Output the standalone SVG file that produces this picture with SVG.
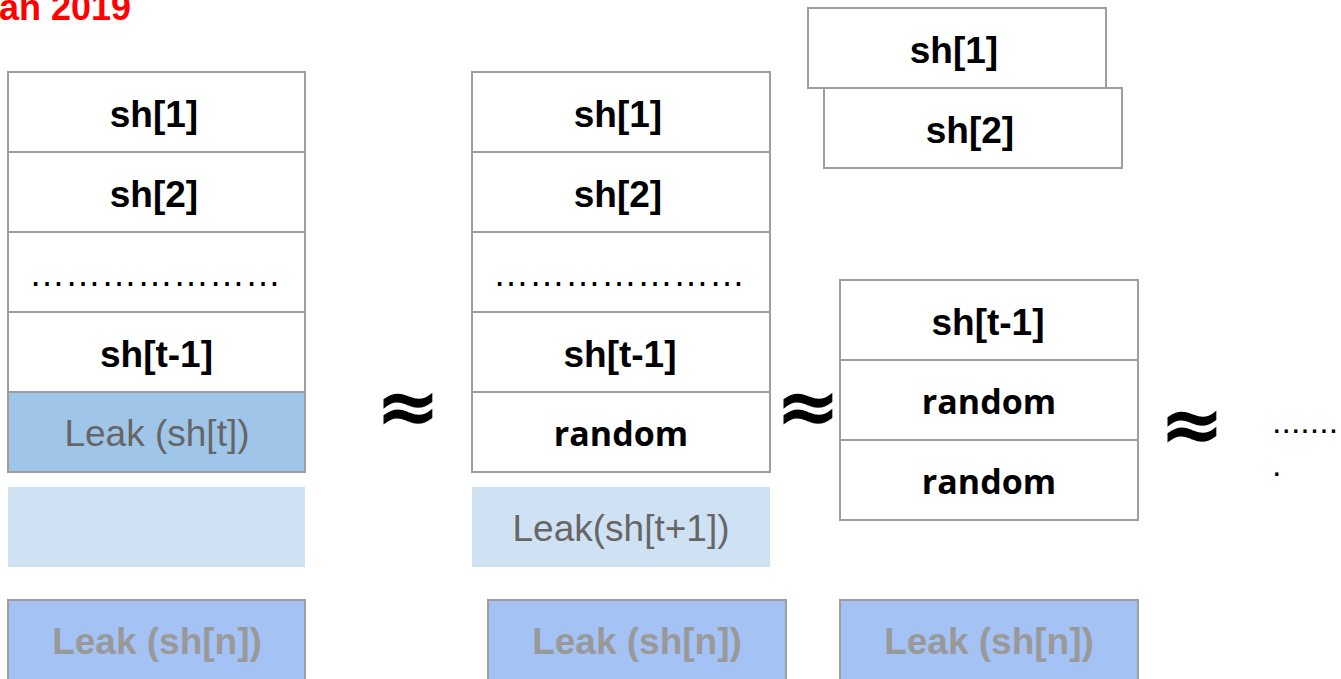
<svg xmlns="http://www.w3.org/2000/svg" width="1341" height="679" viewBox="0 0 1341 679">
<style>
.box{fill:#ffffff;stroke:#9e9e9e;stroke-width:2}
.leakt{fill:#9fc5e8;stroke:#9e9e9e;stroke-width:2}
.light{fill:#cfe2f3;stroke:none}
.leakn{fill:#a4c2f4;stroke:#9e9e9e;stroke-width:2}
.lb{font-family:"Liberation Sans",Arial,sans-serif;font-size:37px;font-weight:bold;fill:#000;text-anchor:middle}
.rnd{font-family:"Open Sans","Noto Sans",sans-serif;font-size:34px;font-weight:bold;fill:#000;text-anchor:middle}
.dots{font-family:"Liberation Sans",Arial,sans-serif;font-size:36px;fill:#000;text-anchor:middle}
.more{font-family:"Liberation Sans",Arial,sans-serif;font-size:34px;fill:#000;text-anchor:start}
.gr{font-family:"Liberation Sans",Arial,sans-serif;font-size:37px;fill:#666666;text-anchor:middle}
.grb{font-family:"Liberation Sans",Arial,sans-serif;font-size:37px;font-weight:bold;fill:#999999;text-anchor:middle}
.approx{font-family:"DejaVu Sans",sans-serif;font-size:78px;font-weight:bold;fill:#000;text-anchor:middle}
.title{font-family:"Liberation Sans",Arial,sans-serif;font-size:36px;font-weight:bold;fill:#ff0000;text-anchor:end}
</style>
<text class="title" x="131" y="20">an 2019</text>
<g id="col1">
<g id="c1-sh1"><rect class="box" x="8" y="72" width="297" height="80"/><text class="lb" x="154" y="127">sh[1]</text></g>
<g id="c1-sh2"><rect class="box" x="8" y="152" width="297" height="80"/><text class="lb" x="154" y="207">sh[2]</text></g>
<g id="c1-dots"><rect class="box" x="8" y="232" width="297" height="80"/><text class="dots" x="155" y="286">…………………</text></g>
<g id="c1-sht1"><rect class="box" x="8" y="312" width="297" height="80"/><text class="lb" x="156.5" y="367">sh[t-1]</text></g>
<g id="c1-leakt"><rect class="leakt" x="8" y="392" width="297" height="80"/><text class="gr" x="157" y="446">Leak (sh[t])</text></g>
<g id="c1-light"><rect class="light" x="8" y="487" width="297" height="80"/></g>
<g id="c1-leakn"><rect class="leakn" x="8" y="600" width="297" height="80"/><text class="grb" x="157" y="654">Leak (sh[n])</text></g>
</g>
<g id="col2">
<g id="c2-sh1"><rect class="box" x="472" y="72" width="298" height="80"/><text class="lb" x="618" y="127">sh[1]</text></g>
<g id="c2-sh2"><rect class="box" x="472" y="152" width="298" height="80"/><text class="lb" x="618" y="207">sh[2]</text></g>
<g id="c2-dots"><rect class="box" x="472" y="232" width="298" height="80"/><text class="dots" x="619" y="286">…………………</text></g>
<g id="c2-sht1"><rect class="box" x="472" y="312" width="298" height="80"/><text class="lb" x="620" y="367">sh[t-1]</text></g>
<g id="c2-rand"><rect class="box" x="472" y="392" width="298" height="80"/><text class="rnd" x="621" y="446">random</text></g>
<g id="c2-leak1"><rect class="light" x="472" y="487" width="298" height="80"/><text class="gr" x="621" y="541">Leak(sh[t+1])</text></g>
<g id="c2-leakn"><rect class="leakn" x="488" y="600" width="298" height="80"/><text class="grb" x="637" y="654">Leak (sh[n])</text></g>
</g>
<g id="col3">
<g id="c3-sh1"><rect class="box" x="808" y="8" width="298" height="80"/><text class="lb" x="954" y="63">sh[1]</text></g>
<g id="c3-sh2"><rect class="box" x="824" y="88" width="298" height="80"/><text class="lb" x="970" y="143">sh[2]</text></g>
<g id="c3-sht1"><rect class="box" x="840" y="280" width="298" height="80"/><text class="lb" x="988" y="335">sh[t-1]</text></g>
<g id="c3-rand1"><rect class="box" x="840" y="360" width="298" height="80"/><text class="rnd" x="989" y="414">random</text></g>
<g id="c3-rand2"><rect class="box" x="840" y="440" width="298" height="80"/><text class="rnd" x="989" y="494">random</text></g>
<g id="c3-leakn"><rect class="leakn" x="840" y="600" width="298" height="80"/><text class="grb" x="989" y="654">Leak (sh[n])</text></g>
</g>
<g id="connectors">
<text class="approx" x="408" y="433">≈</text>
<text class="approx" x="808" y="433">≈</text>
<text class="approx" x="1192" y="451">≈</text>
</g>
<g id="more">
<text class="more" x="1272" y="433">.......</text>
<text class="more" x="1272" y="476">.</text>
</g>
</svg>
